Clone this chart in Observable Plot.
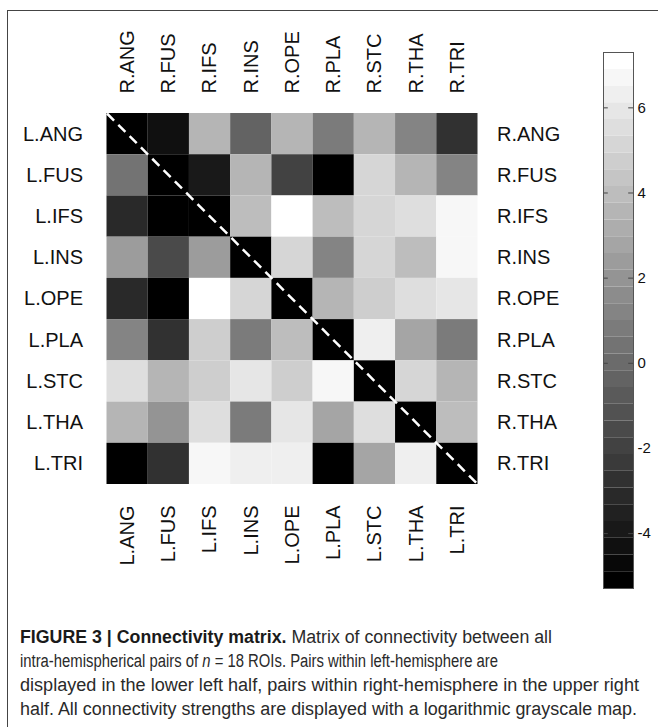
<!DOCTYPE html>
<html><head><meta charset="utf-8">
<script src="https://cdn.jsdelivr.net/npm/d3@7"></script>
<script src="https://cdn.jsdelivr.net/npm/@observablehq/plot@0.6"></script>
<style>
body{margin:0;background:#fff;}
#wrap{position:relative;width:658px;height:727px;overflow:hidden;background:#fff;font-family:"Liberation Sans",Arial,sans-serif;}
#main{position:absolute;left:0;top:0;}
#cbar{position:absolute;left:580px;top:0;}
#caption{position:absolute;left:20px;top:625px;font-family:"Liberation Sans Narrow","Liberation Sans",Arial,sans-serif;font-size:18px;line-height:24px;color:#2a2a2a;white-space:nowrap;}
#caption .ln{display:block;width:max-content;transform-origin:0 50%;}
#caption b{font-weight:bold;color:#1a1a1a;}
.rule-top{position:absolute;left:7px;top:10px;width:651px;height:1px;background:#444;}
.rule-left{position:absolute;left:7px;top:10px;width:1px;height:717px;background:#444;}
</style></head>
<body>
<div id="wrap">
  <div class="rule-top"></div>
  <div class="rule-left"></div>
  <div id="main"></div>
  <div id="cbar"></div>
  <div id="caption">
    <span class="ln" data-w="532"><b>FIGURE 3 | Connectivity matrix.</b> Matrix of connectivity between all</span>
    <span class="ln" data-w="478">intra-hemispherical pairs of <i>n</i> = 18 ROIs. Pairs within left-hemisphere are</span>
    <span class="ln" data-w="619">displayed in the lower left half, pairs within right-hemisphere in the upper right</span>
    <span class="ln" data-w="617">half. All connectivity strengths are displayed with a logarithmic grayscale map.</span>
  </div>
</div>
<script>
// Regions (rows: L.* ; columns top: R.* / bottom: L.*)
const regions = ["ANG", "FUS", "IFS", "INS", "OPE", "PLA", "STC", "THA", "TRI"];
// Connectivity strengths (log scale), row by row; lower-left = left hemisphere, upper-right = right hemisphere
const rowANG = [-5.29, -4.20,  3.50, -0.35,  3.50,  0.63,  3.50,  1.37, -2.82];
const rowFUS = [ 0.54, -5.29, -3.91,  3.50, -2.08, -5.04,  5.32,  3.50,  1.37];
const rowIFS = [-3.32, -5.14, -5.29,  4.09,  7.30,  4.09,  5.32,  5.67,  6.56];
const rowINS = [ 2.36, -1.59,  2.51, -5.29,  5.32,  1.37,  5.32,  4.09,  6.56];
const rowOPE = [-3.32, -5.14,  7.30,  5.32, -5.29,  3.50,  4.83,  5.67,  6.07];
const rowPLA = [ 1.13, -2.57,  4.83,  0.88,  4.09, -5.29,  6.31,  2.61,  0.63];
const rowSTC = [ 5.67,  3.50,  4.83,  6.07,  4.83,  6.56, -5.29,  5.32,  3.50];
const rowTHA = [ 3.50,  2.12,  5.67,  0.88,  5.97,  2.61,  5.67, -5.29,  4.09];
const rowTRI = [-5.14, -2.57,  6.56,  6.16,  6.16, -5.14,  2.61,  6.31, -5.29];
const rows = [rowANG, rowFUS, rowIFS, rowINS, rowOPE, rowPLA, rowSTC, rowTHA, rowTRI];
// Colour bar
const colorDomain = [-5.29, 7.30];
const colorLevels = 32;
const colorTicks = [-4, -2, 0, 2, 4, 6];

const cells = rows.flatMap((row, r) => row.map((v, c) => ({r, c, v})));
const step = (colorDomain[1] - colorDomain[0]) / colorLevels;
const thresholds = d3.range(1, colorLevels).map(i => colorDomain[0] + i * step);
const grays = d3.range(colorLevels).map(i => { const g = Math.round(i * 255 / (colorLevels - 1)); return d3.rgb(g, g, g).formatHex(); });
const colorScale = {type: "threshold", domain: thresholds, range: grays};
const centers = regions.map((d, i) => i + 0.5);
const diag = [{x1: 0, y1: 0, x2: regions.length, y2: regions.length}];
const font = "'Liberation Sans', Arial, sans-serif";

const main = Plot.plot({
  width: 658, height: 600,
  marginLeft: 106.5, marginRight: 180.5, marginTop: 113, marginBottom: 116,
  style: {background: "transparent", fontFamily: font, color: "#111"},
  x: {domain: [0, regions.length]},
  y: {domain: [0, regions.length], reverse: true},
  color: colorScale,
  marks: [
    Plot.rect(cells, {x1: "c", x2: d => d.c + 1, y1: "r", y2: d => d.r + 1, fill: "v"}),
    Plot.link(diag, {x1: "x1", y1: "y1", x2: "x2", y2: "y2", stroke: "white", strokeWidth: 2.5, strokeDasharray: "10,6"}),
    Plot.axisX(centers, {anchor: "top", tickFormat: d => "R." + regions[Math.floor(d)], tickRotate: -90, tickSize: 0, tickPadding: 20, fontSize: 20, label: null}),
    Plot.axisX(centers, {anchor: "bottom", tickFormat: d => "L." + regions[Math.floor(d)], tickRotate: -90, tickSize: 0, tickPadding: 21, fontSize: 20, label: null}),
    Plot.axisY(centers, {anchor: "left", tickFormat: d => "L." + regions[Math.floor(d)], tickSize: 0, tickPadding: 24, fontSize: 20, label: null}),
    Plot.axisY(centers, {anchor: "right", tickFormat: d => "R." + regions[Math.floor(d)], tickSize: 0, tickPadding: 19, fontSize: 20, label: null})
  ]
});
document.getElementById("main").appendChild(main);

const bands = d3.range(colorLevels).map(i => ({y1: colorDomain[0] + i * step, y2: colorDomain[0] + (i + 1) * step}));
const cbar = Plot.plot({
  width: 78, height: 600,
  marginLeft: 23, marginRight: 25, marginTop: 52, marginBottom: 12,
  style: {background: "transparent", fontFamily: font, color: "#111"},
  x: {domain: [0, 1], axis: null},
  y: {domain: colorDomain},
  color: colorScale,
  marks: [
    Plot.rect(bands, {x1: () => 0, x2: () => 1, y1: "y1", y2: "y2", fill: d => (d.y1 + d.y2) / 2}),
    Plot.ruleY(colorTicks, {x1: () => 0, x2: () => 0.16, stroke: "#444", strokeWidth: 1}),
    Plot.ruleY(colorTicks, {x1: () => 0.84, x2: () => 1, stroke: "#444", strokeWidth: 1}),
    Plot.frame({stroke: "#555", strokeWidth: 1}),
    Plot.axisY(colorTicks, {anchor: "right", tickSize: 0, tickPadding: 4, fontSize: 15, label: null, tickFormat: d => String(d)})
  ]
});
document.getElementById("cbar").appendChild(cbar);

// fit each caption line to the width measured on the reference
document.querySelectorAll("#caption .ln").forEach(el => {
  const w = el.getBoundingClientRect().width;
  const target = +el.dataset.w;
  el.style.transform = `scaleX(${target / w})`;
});
</script>
</body></html>
